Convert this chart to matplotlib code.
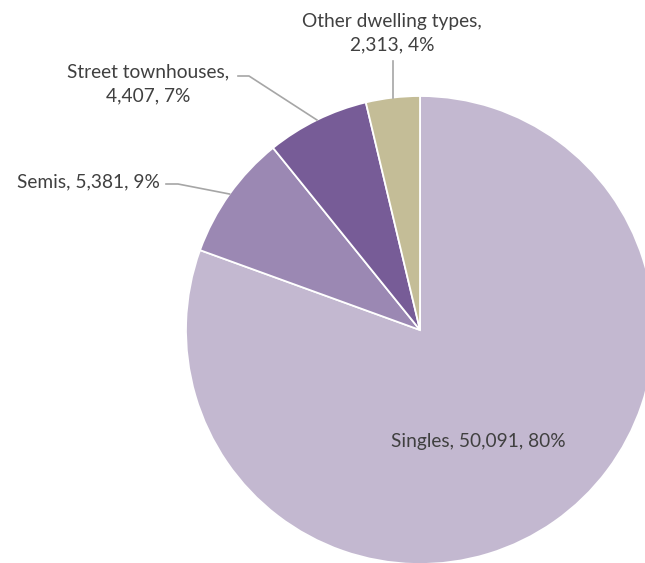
import numpy as np
from matplotlib import pyplot as plt

### Data ###
labels = ["Singles", "Semis", "Street townhouses", "Other dwelling types"]
counts = [50091, 5381, 4407, 2313]
pct = [80, 9, 7, 4]
colors = ["#C3B8D0", "#9B88B3", "#775C97", "#C4BD97"]

W, H = 645, 563
cx, cy, r = 420, H - 330, 234
text_color = "#404040"
line_color = "#A6A6A6"

plt.rcParams['font.family'] = ['Lato', 'DejaVu Sans']

fig = plt.figure(figsize=(W / 100, H / 100), dpi=100)
ax = fig.add_axes([0, 0, 1, 1])
wedges, _ = ax.pie(counts, colors=colors, startangle=90, counterclock=False,
                   center=(cx, cy), radius=r,
                   wedgeprops=dict(edgecolor="white", linewidth=1.3))
ax.set_xlim(0, W)
ax.set_ylim(0, H)
ax.set_aspect('equal')
ax.axis('off')

texts = [f"{lab}, {c:,}, {p}%" for lab, c, p in zip(labels, counts, pct)]


def edge_point(w):
    mid = np.deg2rad((w.theta1 + w.theta2) / 2)
    return cx + r * np.cos(mid), cy + r * np.sin(mid)


fs = 13.8
# Singles - inside
ax.text(478, H - 441, texts[0], ha="center", va="center",
        fontsize=fs, color=text_color)

# Semis
ex, ey = edge_point(wedges[1])
ax.plot([166, 178, ex], [H - 184, H - 184, ey], color=line_color, lw=1.2)
ax.text(88, H - 182, texts[1], ha="center", va="center",
        fontsize=fs, color=text_color)

# Street townhouses
ex, ey = edge_point(wedges[2])
ax.plot([238, 249, ex], [H - 76, H - 76, ey], color=line_color, lw=1.2)
ax.text(148, H - 84, f"{labels[2]},\n{counts[2]:,}, {pct[2]}%", ha="center",
        va="center", fontsize=fs, color=text_color, linespacing=1.45)

# Other dwelling types
ex, ey = edge_point(wedges[3])
ax.plot([ex, ex], [H - 61, ey], color=line_color, lw=1.2)
ax.text(392, H - 33, f"{labels[3]},\n{counts[3]:,}, {pct[3]}%", ha="center",
        va="center", fontsize=fs, color=text_color, linespacing=1.45)

fig.savefig("out.png", dpi=100)
